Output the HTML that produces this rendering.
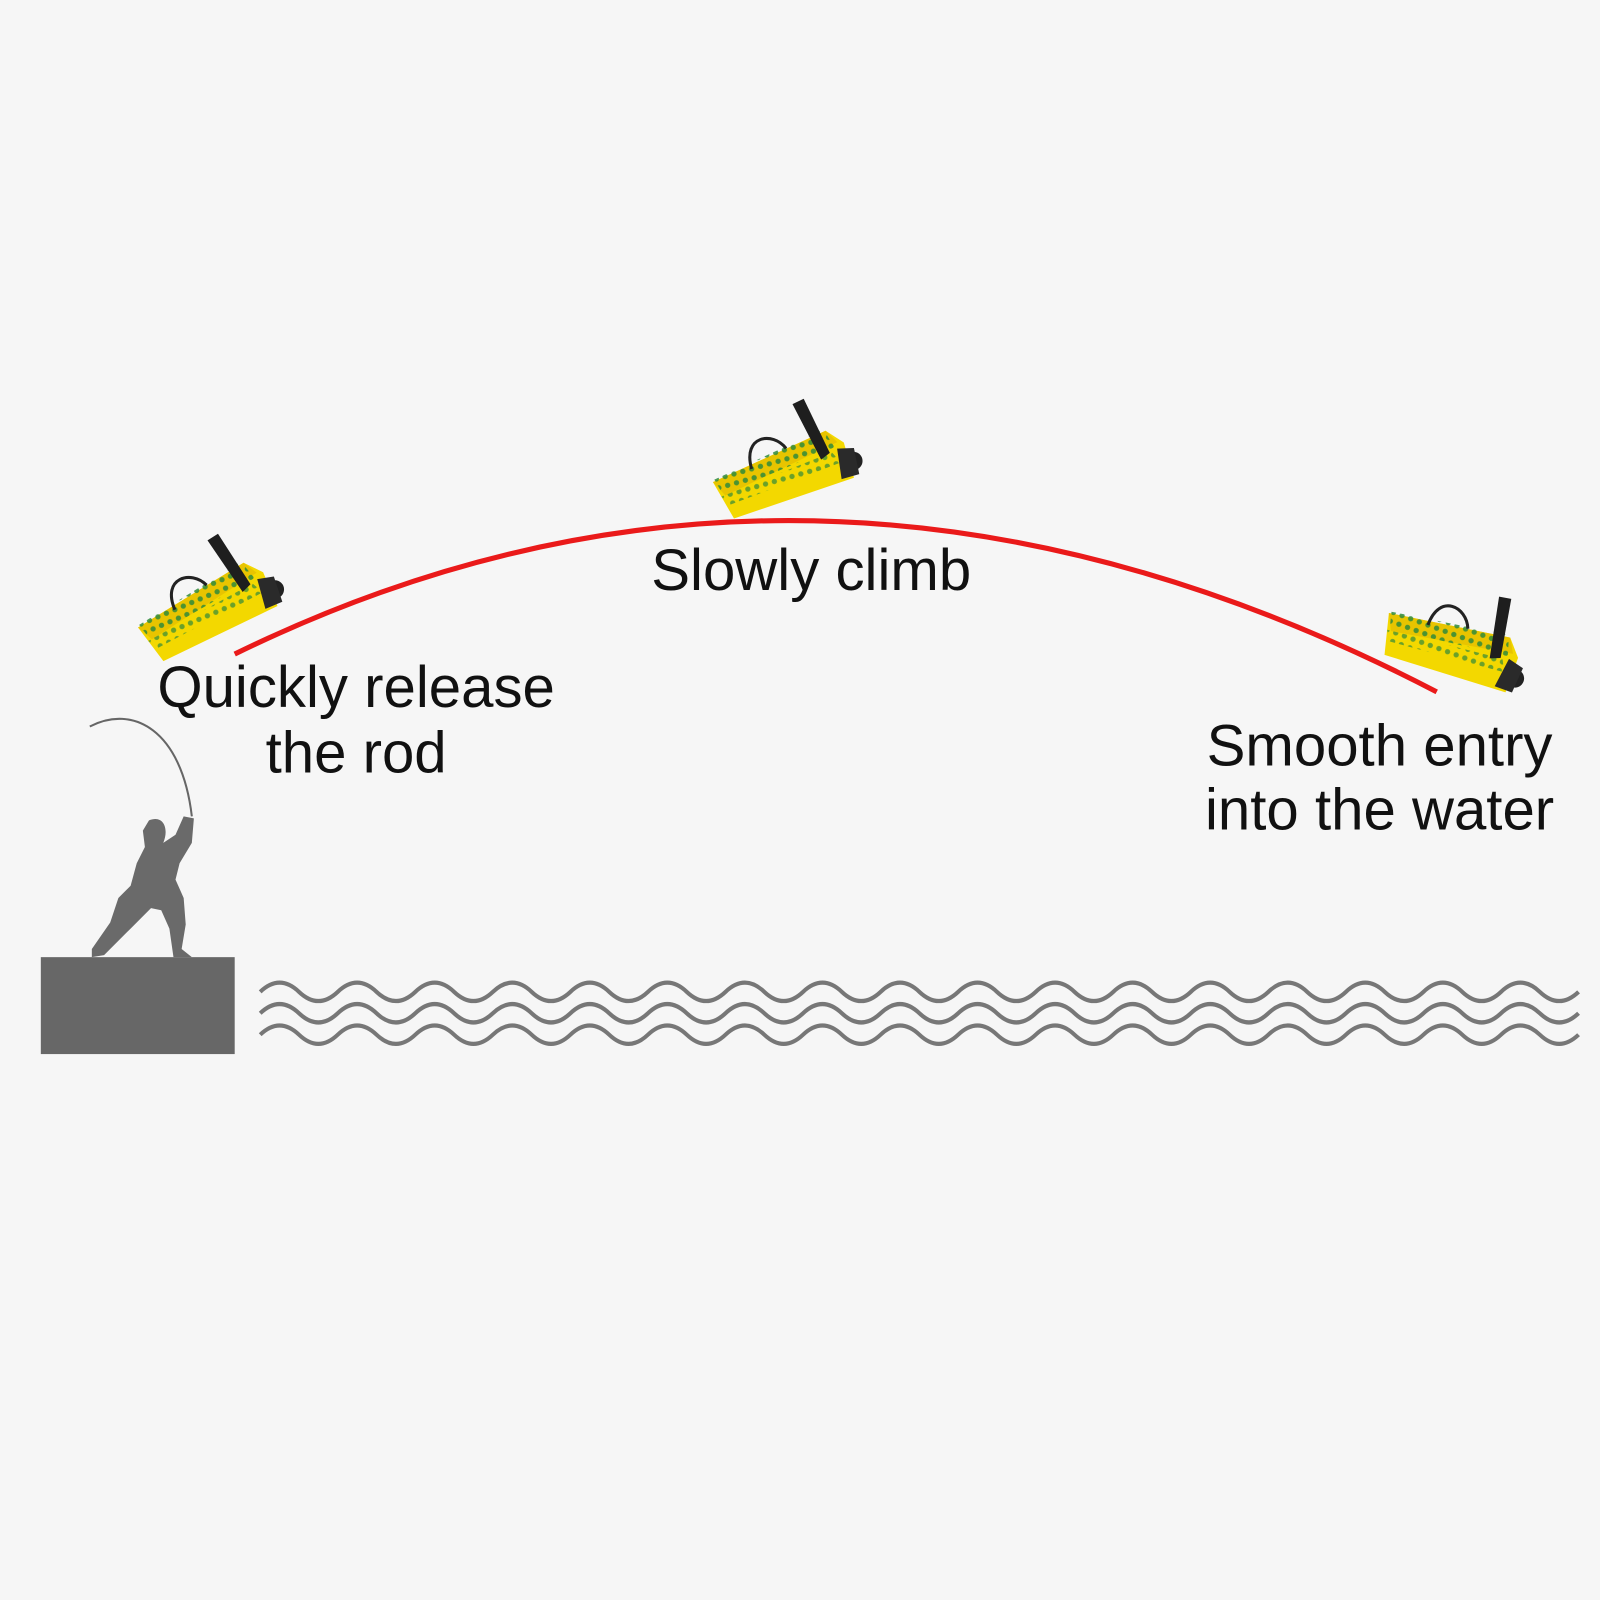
<!DOCTYPE html>
<html><head><meta charset="utf-8"><style>
html,body{margin:0;padding:0;background:#f6f6f6;}
svg{display:block;}
text{font-family:"Liberation Sans","DejaVu Sans",sans-serif;fill:#111;font-size:57px;text-anchor:middle;}
</style></head><body>
<svg width="1600" height="1600" viewBox="0 0 1568 1568" xmlns="http://www.w3.org/2000/svg">
<defs>
<pattern id="dots" width="9" height="9" patternUnits="userSpaceOnUse">
<circle cx="4" cy="4" r="2.6" fill="#2f8a3a"/>
</pattern>
<g id="lure">
<path d="M0,-12 L120,-30 L134,-14 L134,22 L10,28 Z" fill="#f3d800"/>
<path d="M0,-12 L120,-30 L128,-16 L8,4 Z" fill="#e8c400"/>
<path d="M2,-14 L118,-32 L124,-12 L6,2 Z" fill="url(#dots)" opacity="0.85"/>
<path d="M4,4 L120,-8 L126,4 L10,14 Z" fill="url(#dots)" opacity="0.7"/>
<path d="M40,-14 C40,-48 70,-44 78,-24" fill="none" stroke="#222" stroke-width="3"/>
<path d="M118,-8 L108,-66 L96,-64 L108,-4 Z" fill="#1e1e1e"/>
<circle cx="138" cy="6" r="9" fill="#222"/>
<path d="M126,-10 L142,-6 L140,20 L122,20 Z" fill="#2a2a2a"/>
</g>
</defs>
<rect width="1568" height="1568" fill="#f6f6f6"/>
<path d="M230,641 Q800,362 1408,678" fill="none" stroke="#ea1a1a" stroke-width="5"/>
<use href="#lure" transform="translate(140,626) rotate(-23)"/>
<use href="#lure" transform="translate(702,484) rotate(-16)"/>
<use href="#lure" transform="translate(1357,612) rotate(20)"/>
<text x="349" y="693">Quickly release</text>
<text x="349" y="757">the rod</text>
<text x="795" y="578">Slowly climb</text>
<text x="1352" y="750">Smooth entry</text>
<text x="1352" y="813">into the water</text>
<rect x="40" y="938" width="190" height="95" fill="#676767"/>
<path d="M88,712 C130,690 178,715 188,800" fill="none" stroke="#666" stroke-width="2"/>
<path d="M146,804 C160,798 166,812 160,826 L172,818 L180,800 L190,802 L188,826 L176,846 L172,862 L180,880 L182,906 L178,930 L188,938 L170,938 L166,910 L158,892 L148,890 L128,910 L102,936 L90,938 L90,930 L108,904 L116,880 L128,868 L134,846 L142,830 L140,814 Z" fill="#6a6a6a"/>
<g fill="none" stroke="#777" stroke-width="4">
<path id="w" d="M255,972 q19,-18 38,0 t38,0 t38,0 t38,0 t38,0 t38,0 t38,0 t38,0 t38,0 t38,0 t38,0 t38,0 t38,0 t38,0 t38,0 t38,0 t38,0 t38,0 t38,0 t38,0 t38,0 t38,0 t38,0 t38,0 t38,0 t38,0 t38,0 t38,0 t38,0 t38,0 t38,0 t38,0 t38,0 t38,0"/>
<use href="#w" y="21"/>
<use href="#w" y="42"/>
</g>
</svg>
</body></html>
